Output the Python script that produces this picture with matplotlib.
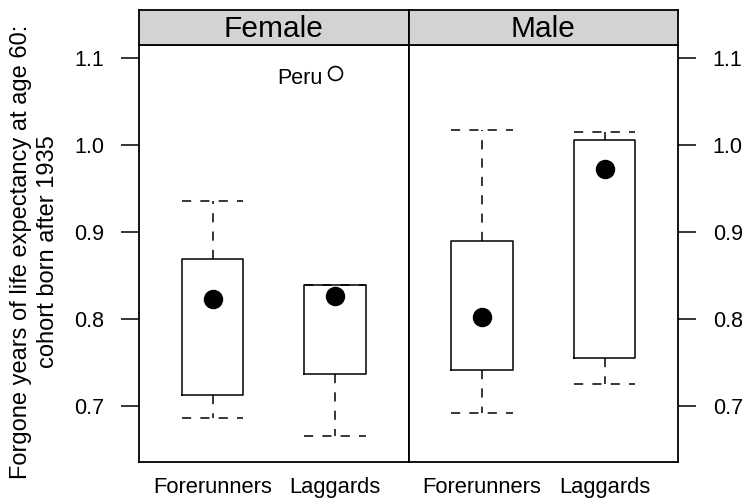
import numpy as np
import matplotlib
matplotlib.use('Agg')
import matplotlib.pyplot as plt

plt.rcParams['font.family'] = ['Liberation Sans', 'DejaVu Sans']

# ===== 数据 =====
panels = ['Female', 'Male']
groups = ['Forerunners', 'Laggards']
q1 = [[0.713, 0.737], [0.742, 0.755]]
q3 = [[0.869, 0.839], [0.890, 1.006]]
med = [[0.823, 0.827], [0.803, 0.972]]
whislo = [[0.686, 0.666], [0.692, 0.726]]
whishi = [[0.936, 0.839], [1.017, 1.015]]
fliers = [[[], [1.083]], [[], []]]
flier_labels = [[[], ['Peru']], [[], []]]
yticks = [0.7, 0.8, 0.9, 1.0, 1.1]

# ===== 布局 =====
W, H = 746, 500
fig = plt.figure(figsize=(W / 100, H / 100), dpi=100)
left, right, bottom, top, strip_top = 139, 678, 462, 45, 10
pw = (right - left) / 2

dash = (0, (6, 6))
for i, name in enumerate(panels):
    ax = fig.add_axes([(left + i * pw) / W, 1 - bottom / H, pw / W, (bottom - top) / H])
    stats = []
    for j, g in enumerate(groups):
        stats.append(dict(med=med[i][j], q1=q1[i][j], q3=q3[i][j],
                          whislo=whislo[i][j], whishi=whishi[i][j],
                          fliers=fliers[i][j], label=g))
    pos = np.arange(1, len(groups) + 1)
    ax.bxp(stats, positions=pos, widths=0.5, capwidths=0.5,
           boxprops=dict(color='black', lw=1.1),
           whiskerprops=dict(color='black', lw=1.1, linestyle=dash),
           capprops=dict(color='black', lw=1.1, linestyle=dash),
           medianprops=dict(visible=False),
           flierprops=dict(marker='o', markersize=10, markerfacecolor='none',
                           markeredgecolor='black', markeredgewidth=1.2))
    ax.plot(pos, med[i], 'o', color='black', markersize=13, zorder=5)
    for j in range(len(groups)):
        for v, lab in zip(fliers[i][j], flier_labels[i][j]):
            ax.annotate(lab, (pos[j], v), xytext=(-9, -4), textcoords='offset points',
                        ha='right', va='center', fontsize=15.5)
    ax.set_xlim(0.4, 2.6)
    ax.set_ylim(0.636, 1.115)
    ax.set_yticks(yticks)
    ax.set_yticklabels([f'{t:.1f}' for t in yticks])
    ax.tick_params(axis='x', length=0, labelsize=15.8, pad=11)
    ax.tick_params(axis='y', length=13, width=1.1, labelsize=15.5, pad=12, direction='out')
    if i == 0:
        ax.yaxis.set_ticks_position('left')
    else:
        ax.yaxis.set_ticks_position('right')
    for s in ax.spines.values():
        s.set_linewidth(1.3)
    # 条带标题
    sax = fig.add_axes([(left + i * pw) / W, 1 - top / H, pw / W, (top - strip_top) / H])
    sax.set_facecolor('#d3d3d3')
    sax.set_xticks([])
    sax.set_yticks([])
    for s in sax.spines.values():
        s.set_linewidth(1.3)
    sax.text(0.5, 0.45, name, ha='center', va='center', fontsize=21.5, transform=sax.transAxes)

fig.text(34.5 / W, 1 - 252 / H,
         'Forgone years of life expectancy at age 60:\ncohort born after 1935',
         rotation=90, ha='center', va='center', multialignment='center',
         fontsize=17, linespacing=1.3)

fig.savefig('out.png', dpi=100)
